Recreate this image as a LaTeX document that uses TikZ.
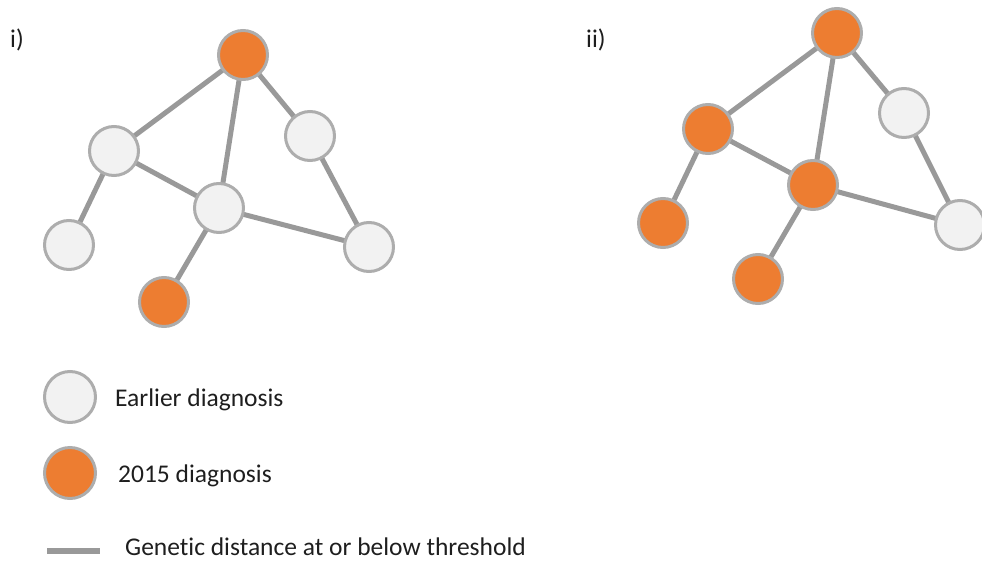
\documentclass[tikz,border=0pt]{standalone}
\usepackage{fontspec}
\setmainfont{Carlito}[Ligatures={NoCommon}]
\usetikzlibrary{backgrounds}
\definecolor{newcase}{HTML}{ED7D31}
\definecolor{oldcase}{HTML}{F2F2F2}
\definecolor{ringgray}{HTML}{ADADAD}
\definecolor{linkgray}{HTML}{999999}
\definecolor{ink}{HTML}{1E1E1E}
\begin{document}
\begin{tikzpicture}[x=1pt,y=-1pt,
  case/.style={circle,draw=ringgray,line width=3pt,minimum size=49pt,inner sep=0pt},
  old/.style={case,fill=oldcase},
  new/.style={case,fill=newcase},
  link/.style={draw=linkgray,line width=5pt},
  lbl/.style={font=\fontsize{25.5}{30}\selectfont,text=ink,anchor=base west,inner sep=0pt}]
\useasboundingbox (0,0) rectangle (982,562);

% panel i
\node[lbl] (pi) at (10,47) {i)};
\node[new] (a1) at (243,55) {};
\node[old] (a2) at (114,151) {};
\node[old] (a3) at (310,136) {};
\node[old] (a4) at (219,208) {};
\node[old] (a5) at (69,245) {};
\node[old] (a6) at (369,247) {};
\node[new] (a7) at (164,302) {};

% panel ii
\node[lbl] (pii) at (586,47) {ii)};
\node[new] (b1) at (837,33) {};
\node[new] (b2) at (708,129) {};
\node[old] (b3) at (904,113) {};
\node[new] (b4) at (813,185) {};
\node[new] (b5) at (663,223) {};
\node[old] (b6) at (960,225) {};
\node[new] (b7) at (758,279) {};

% links, kept behind the circles
\begin{scope}[on background layer]
\foreach \p/\q in {a1/a2,a1/a4,a1/a3,a2/a5,a2/a4,a3/a6,a4/a6,a4/a7,
                   b1/b2,b1/b4,b1/b3,b2/b5,b2/b4,b3/b6,b4/b6,b4/b7}
  \path[link] (\p.center) -- (\q.center);
\end{scope}

% legend
\node[old,minimum size=51pt] (k1) at (70,397) {};
\node[lbl] (t1) at (115,406) {Earlier diagnosis};
\node[new,minimum size=51pt] (k2) at (70,473) {};
\node[lbl] (t2) at (118,482) {2015 diagnosis};
\coordinate (l1) at (47,551);
\coordinate (l2) at (100,551);
\path[link,line width=6pt] (l1) -- (l2);
\node[lbl] (t3) at (125,555) {Genetic distance at or below threshold};
\end{tikzpicture}
\end{document}
